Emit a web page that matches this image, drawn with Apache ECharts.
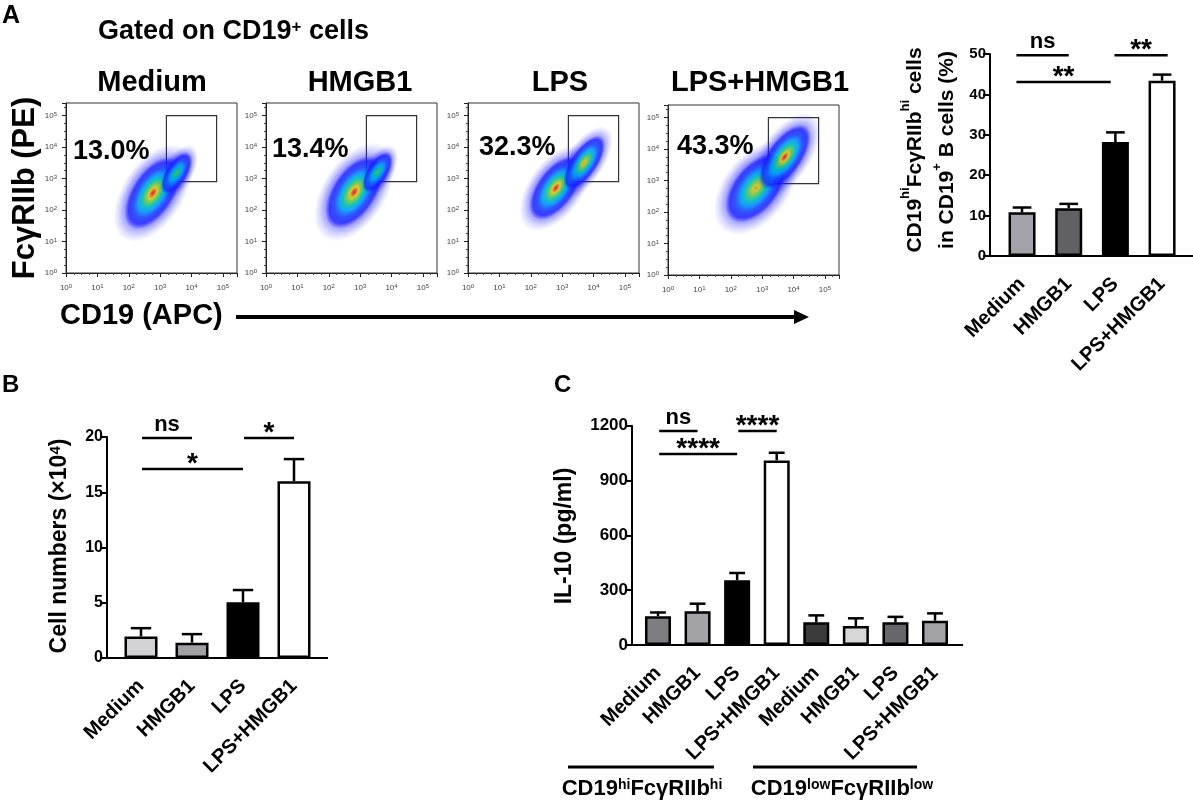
<!DOCTYPE html>
<html>
<head>
<meta charset="utf-8">
<script src="https://cdn.jsdelivr.net/npm/echarts@6/dist/echarts.min.js"></script>
<style>
  html, body { margin: 0; background: #fff; }
  #main { width: 1193px; height: 800px; }
</style>
</head>
<body>
<div id="main"></div>
<script>
const FONT = '"Liberation Sans", Arial, sans-serif';

// ---- panel A: flow plots ----
const flowTitles = ['Medium', 'HMGB1', 'LPS', 'LPS+HMGB1'];
const gatePct = ['13.0%', '13.4%', '32.3%', '43.3%'];
const gateBox = [3.2, 2.9, 4.8, 5.0];            // x1, y1, x2, y2 (log10)
// one entry per cell population
const popPlot  = [0, 0, 1, 1, 2, 2, 3, 3];
const popX     = [2.77, 3.52, 2.81, 3.55, 2.80, 3.70, 2.80, 3.72];
const popY     = [2.54, 3.17, 2.57, 3.20, 2.70, 3.50, 2.76, 3.75];
const popLong  = [2.60, 1.50, 2.60, 1.45, 2.35, 2.00, 2.55, 2.40];   // decades
const popShort = [1.35, 0.70, 1.40, 0.68, 1.20, 0.85, 1.45, 1.10];
const popTilt  = [57, 58, 57, 58, 54, 56, 52, 55];
const popPeak  = [0, 2, 0, 2, 0, 1, 1, 0];       // 0 red, 1 yellow, 2 green

// ---- panel A right: % CD19hi FcyRIIbhi ----
const groups = ['Medium', 'HMGB1', 'LPS', 'LPS+HMGB1'];
const pctMean = [10.8, 11.8, 28.2, 43.4];
const pctSem  = [1.2, 1.1, 2.4, 1.5];
const pctSig  = [[-0.12, 1.0, 49.7, 'ns'], [1.98, 3.12, 49.7, '**'], [-0.12, 1.9, 43.1, '**']];

// ---- panel B: cell numbers ----
const cellMean = [1.95, 1.38, 5.05, 16.0];
const cellSem  = [0.75, 0.78, 1.1, 2.0];
const cellSig  = [[0.02, 1.0, 19.9, 'ns'], [2.02, 3.0, 19.9, '*'], [0.02, 2.0, 17.1, '*']];

// ---- panel C: IL-10 ----
const il10Cats = groups.concat(groups);
const il10Mean = [158, 184, 354, 1010, 124, 104, 124, 133];
const il10Sem  = [20, 42, 40, 42, 38, 42, 30, 40];
const il10Sig  = [[0.03, 1.0, 1171, 'ns'], [2.03, 3.0, 1171, '****'], [0.03, 2.0, 1045, '****']];

// colours
const pctColors  = ['#a3a3a9', '#616165', '#000000', '#ffffff'];
const cellColors = ['#d3d3d5', '#a1a1a5', '#000000', '#ffffff'];
const il10Colors = ['#7d7d81', '#a3a3a7', '#000000', '#ffffff', '#3b3b3b', '#d7d7d7', '#67676b', '#a3a3a7'];

// layout
const flowGrids = [
  { left: 66, top: 103, width: 171, height: 170 },
  { left: 266, top: 103, width: 171, height: 170 },
  { left: 468, top: 103, width: 171, height: 170 },
  { left: 668, top: 105, width: 171, height: 170 }
];
const FLOW_XMAX = 5.45, FLOW_YMAX = 5.4;
const PPD = 171 / FLOW_XMAX;   // pixels per decade

const barPanels = [
  { grid: { left: 998.7, top: 54, width: 186.7, height: 202 }, axisX: 990, endX: 1193, barW: 27 },
  { grid: { left: 115.5, top: 437, width: 204, height: 221 }, axisX: 107, endX: 328, barW: 33 },
  { grid: { left: 638.2, top: 425.7, width: 316.6, height: 219.3 }, axisX: 632, endX: 963, barW: 26 }
];

const peakStops = [
  [[0, '#ff1500'], [0.07, '#ff6a00'], [0.15, '#f2e600'], [0.26, '#6ee23a'], [0.38, '#00d8a8'],
   [0.52, '#00a8ff'], [0.68, '#1848ff'], [0.86, 'rgba(20,20,255,0.85)'], [1, 'rgba(40,40,255,0)']],
  [[0, '#ff9a00'], [0.08, '#e8e800'], [0.22, '#70e040'], [0.36, '#00d8a8'],
   [0.5, '#00a8ff'], [0.68, '#1848ff'], [0.86, 'rgba(20,20,255,0.85)'], [1, 'rgba(40,40,255,0)']],
  [[0, '#50e040'], [0.2, '#00d8a0'], [0.4, '#00a8ff'], [0.62, '#1848ff'],
   [0.84, 'rgba(20,20,255,0.85)'], [1, 'rgba(40,40,255,0)']]
];
const haloStops = [[0, 'rgba(25,25,255,0.9)'], [0.7, 'rgba(25,25,255,0.55)'],
                   [0.86, 'rgba(40,40,255,0.22)'], [1, 'rgba(60,60,255,0)']];
const ELLIPSE = 'path://M0,-1A1,1 0 1,1 0,1A1,1 0 1,1 0,-1Z';

function radial(stops) {
  return new echarts.graphic.RadialGradient(0.5, 0.5, 0.5,
    stops.map(s => ({ offset: s[0], color: s[1] })));
}

const supRich = {
  b: { fontSize: 8, fontFamily: FONT, color: '#444' },
  s: { fontSize: 6, fontFamily: FONT, color: '#444', verticalAlign: 'top', padding: [0, 0, 3, 0] }
};
function decadeLabel(v) {
  return v > 5 ? '' : '{b|10}{s|' + v + '}';
}

const grids = [], xAxes = [], yAxes = [], series = [];

flowGrids.forEach((g, p) => {
  grids.push(Object.assign({ show: true, borderColor: '#333', borderWidth: 1, backgroundColor: '#fff' }, g));
  const axisCommon = {
    gridIndex: p, type: 'value', min: 0, interval: 1,
    axisLine: { show: true, lineStyle: { color: '#222', width: 1 } },
    axisTick: { length: 4, lineStyle: { color: '#222', width: 1 } },
    minorTick: { show: true, splitNumber: 4, length: 2, lineStyle: { color: '#444', width: 1 } },
    axisLabel: { formatter: decadeLabel, rich: supRich },
    splitLine: { show: false }
  };
  xAxes.push(Object.assign({}, axisCommon, { max: FLOW_XMAX,
    axisLabel: Object.assign({}, axisCommon.axisLabel, { margin: 10 }) }));
  yAxes.push(Object.assign({}, axisCommon, { max: FLOW_YMAX,
    axisLabel: Object.assign({}, axisCommon.axisLabel, { margin: 9 }) }));

  const halos = [], cores = [];
  popPlot.forEach((pl, k) => {
    if (pl !== p) return;
    halos.push({
      value: [popX[k], popY[k]],
      symbolSize: [popLong[k] * PPD * 1.35, popShort[k] * PPD * 1.45],
      symbolRotate: popTilt[k],
      itemStyle: { color: radial(haloStops) }
    });
    cores.push({
      value: [popX[k], popY[k]],
      symbolSize: [popLong[k] * PPD, popShort[k] * PPD],
      symbolRotate: popTilt[k],
      itemStyle: { color: radial(peakStops[popPeak[k]]) }
    });
  });
  series.push({
    type: 'scatter', xAxisIndex: p, yAxisIndex: p, symbol: ELLIPSE, silent: true,
    data: halos.concat(cores),
    markArea: {
      silent: true,
      itemStyle: { color: 'rgba(0,0,0,0)', borderColor: '#333', borderWidth: 1.2 },
      data: [[{ coord: [gateBox[0], gateBox[1]] }, { coord: [gateBox[2], gateBox[3]] }]]
    }
  });
});

const barSets = [
  { cats: groups, mean: pctMean, sem: pctSem, sig: pctSig, colors: pctColors, max: 50, interval: 10,
    tickFont: 15, catFont: 20 },
  { cats: groups, mean: cellMean, sem: cellSem, sig: cellSig, colors: cellColors, max: 20, interval: 5,
    tickFont: 16, catFont: 20 },
  { cats: il10Cats, mean: il10Mean, sem: il10Sem, sig: il10Sig, colors: il10Colors, max: 1200, interval: 300,
    tickFont: 17, catFont: 20 }
];

barSets.forEach((d, j) => {
  const idx = 4 + j;
  const pan = barPanels[j];
  grids.push(pan.grid);
  xAxes.push({
    gridIndex: idx, type: 'category', data: d.cats,
    axisLine: { show: false },
    axisTick: { alignWithLabel: true, length: 8, lineStyle: { color: '#000', width: 2 } },
    axisLabel: { rotate: 45, interval: 0, margin: 25, color: '#000', fontFamily: FONT, fontWeight: 'bold', fontSize: d.catFont }
  });
  yAxes.push({
    gridIndex: idx, type: 'value', min: 0, max: d.max, interval: d.interval,
    offset: pan.grid.left - pan.axisX,
    axisLine: { show: true, lineStyle: { color: '#000', width: 2 } },
    axisTick: { show: true, length: 7, lineStyle: { color: '#000', width: 2 } },
    axisLabel: { color: '#000', fontFamily: FONT, fontWeight: 'bold', fontSize: d.tickFont, margin: 4,
                 formatter: v => String(v) },
    splitLine: { show: false }
  });
  series.push({
    type: 'bar', xAxisIndex: idx, yAxisIndex: idx, barWidth: pan.barW, silent: true,
    data: d.mean.map((v, i) => ({ value: v, itemStyle: { color: d.colors[i], borderColor: '#000', borderWidth: 2.5 } }))
  });
  series.push({
    type: 'custom', xAxisIndex: idx, yAxisIndex: idx, silent: true, z: 3,
    data: d.mean.map((v, i) => [i, v, d.sem[i]]),
    renderItem: (params, api) => {
      const i = api.value(0), m = api.value(1), s = api.value(2);
      const b = api.coord([i, m]), t = api.coord([i, m + s]);
      const half = api.size([1, 0])[0] * 0.2;
      const st = { stroke: '#000', lineWidth: 2.5 };
      return { type: 'group', children: [
        { type: 'line', shape: { x1: b[0], y1: b[1], x2: t[0], y2: t[1] }, style: st },
        { type: 'line', shape: { x1: t[0] - half, y1: t[1], x2: t[0] + half, y2: t[1] }, style: st }
      ] };
    }
  });
  series.push({
    type: 'custom', xAxisIndex: idx, yAxisIndex: idx, silent: true, z: 4,
    data: d.sig.map(s => [0, s[2], s[0], s[1]]),
    renderItem: (params, api) => {
      const y = api.value(1), f1 = api.value(2), f2 = api.value(3);
      const p0 = api.coord([0, y]);
      const band = api.size([1, 0])[0];
      const x1 = p0[0] + f1 * band, x2 = p0[0] + f2 * band;
      const label = d.sig[params.dataIndex][3];
      const isNs = label === 'ns';
      return { type: 'group', children: [
        { type: 'line', shape: { x1: x1, y1: p0[1], x2: x2, y2: p0[1] }, style: { stroke: '#000', lineWidth: 2.5 } },
        { type: 'text', x: (x1 + x2) / 2, y: isNs ? p0[1] - 2 : p0[1] + 9,
          style: { text: label, fill: '#000', align: 'center', verticalAlign: 'bottom',
                   font: 'bold ' + (isNs ? 22 : 28) + 'px ' + FONT } }
      ] };
    }
  });
});

function txt(x, y, text, size, opts) {
  return Object.assign({
    type: 'text', x: x, y: y, silent: true,
    style: Object.assign({ text: text, fill: '#000', font: 'bold ' + size + 'px ' + FONT,
      align: 'left', verticalAlign: 'middle' }, (opts && opts.style) || {})
  }, opts && opts.el);
}
function richSup(size) {
  return { s: { fontSize: size, fontFamily: FONT, fontWeight: 'bold', fill: '#000', verticalAlign: 'top' } };
}

const graphics = [
  txt(2, 16, 'A', 25),
  txt(2, 385, 'B', 24),
  txt(554, 385, 'C', 24),
  txt(98, 32, 'Gated on CD19{s|+} cells', 27, { style: { rich: richSup(17) } }),
  txt(25, 188, 'FcγRIIb (PE)', 31, { style: { align: 'center' }, el: { rotation: Math.PI / 2 } }),
  txt(60, 316, 'CD19 (APC)', 29),
  { type: 'line', silent: true, shape: { x1: 236, y1: 317, x2: 796, y2: 317 }, style: { stroke: '#000', lineWidth: 4 } },
  { type: 'polygon', silent: true, shape: { points: [[794, 310], [809, 317], [794, 324]] }, style: { fill: '#000' } },
  txt(931, 150, 'CD19{s|hi}FcγRIIb{s|hi} cells\nin CD19{s|+} B cells (%)', 21,
      { style: { align: 'center', rich: richSup(13), lineHeight: 32 }, el: { rotation: Math.PI / 2 } }),
  txt(60, 546, 'Cell numbers (×10{s|4})', 23, { style: { align: 'center', rich: richSup(15) }, el: { rotation: Math.PI / 2 } }),
  txt(565, 536, 'IL-10 (pg/ml)', 23, { style: { align: 'center' }, el: { rotation: Math.PI / 2 } }),
  { type: 'line', silent: true, shape: { x1: 568, y1: 767, x2: 714, y2: 767 }, style: { stroke: '#000', lineWidth: 3 } },
  { type: 'line', silent: true, shape: { x1: 753, y1: 767, x2: 917, y2: 767 }, style: { stroke: '#000', lineWidth: 3 } },
  txt(642, 789, 'CD19{s|hi}FcγRIIb{s|hi}', 22, { style: { align: 'center', rich: richSup(14) } }),
  txt(842, 789, 'CD19{s|low}FcγRIIb{s|low}', 22, { style: { align: 'center', rich: richSup(14) } })
];
flowTitles.forEach((t, p) => {
  const g = flowGrids[p];
  graphics.push(txt(g.left + [86, 94, 92, 92][p], 83, t, 29, { style: { align: 'center' } }));
  graphics.push(txt(g.left + [7, 6, 11, 9][p], [152, 150, 148, 147][p], gatePct[p], 27));
});
barPanels.forEach(pan => {
  const y = pan.grid.top + pan.grid.height;
  graphics.push({ type: 'line', silent: true, z: 10, shape: { x1: pan.axisX - 1, y1: y, x2: pan.endX, y2: y },
                  style: { stroke: '#000', lineWidth: 2 } });
});

const chart = echarts.init(document.getElementById('main'));
chart.setOption({
  animation: false,
  backgroundColor: '#fff',
  textStyle: { fontFamily: FONT },
  grid: grids,
  xAxis: xAxes,
  yAxis: yAxes,
  series: series,
  graphic: { elements: graphics }
});
</script>
</body>
</html>
